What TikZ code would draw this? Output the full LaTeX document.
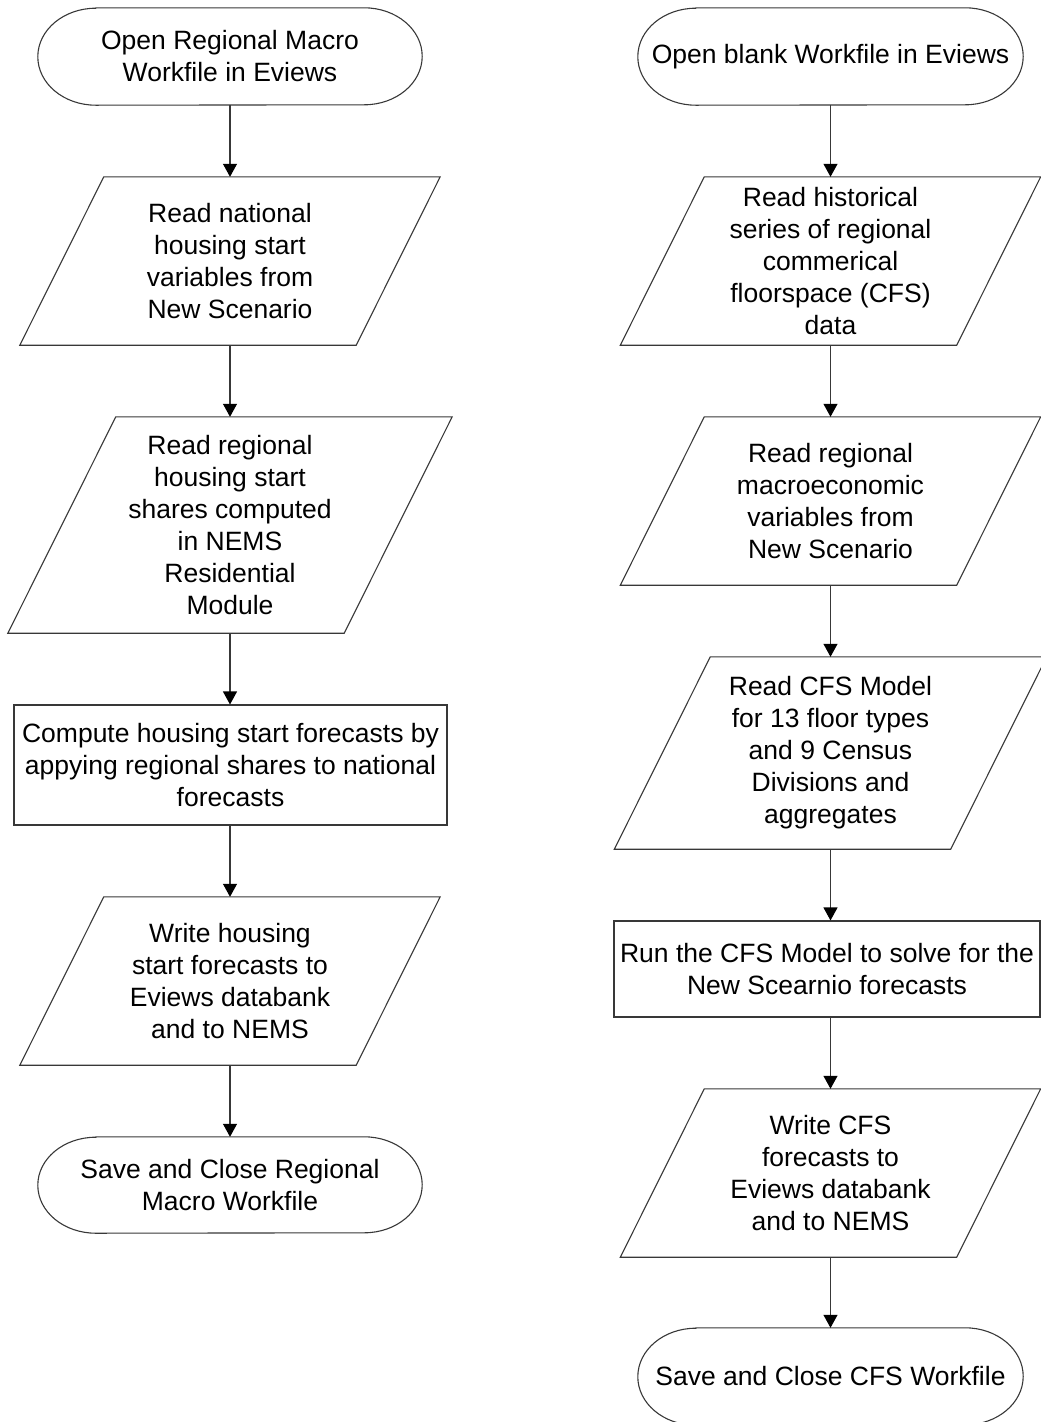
\documentclass[tikz,border=0pt]{standalone}
\usepackage{fontspec}
\setmainfont{Liberation Sans}
\usetikzlibrary{arrows.meta}
\newcommand{\pgram}[2]{\draw[shapeline] ([xshift=#2pt]#1.north west) -- ([xshift=#2pt]#1.north east) -- ([xshift=-#2pt]#1.south east) -- ([xshift=-#2pt]#1.south west) -- cycle;}
\newcommand{\termshape}[3]{\draw[shapeline] ([xshift=#2pt]#1.north west) -- ([xshift=-#2pt]#1.north east) arc[start angle=90,end angle=-90,x radius=#2pt,y radius=#3pt] -- ([xshift=#2pt]#1.south west) arc[start angle=270,end angle=90,x radius=#2pt,y radius=#3pt] -- cycle;}
\begin{document}
\begin{tikzpicture}[x=1pt,y=-1pt,
  shapeline/.style={draw=black!78,line width=1.1pt},
  txt/.style={inner sep=0pt,align=center,font=\fontsize{26.5}{32}\selectfont},
  boxnode/.style={txt,draw=black!78,line width=1.1pt,rectangle},
  flow/.style={draw=black!78,line width=1.1pt,-{Triangle[width=14pt,length=13pt,color=black]}}]
\useasboundingbox (0,0) rectangle (1041,1422);
% ---------- left column ----------
\node[txt,minimum width=384pt,minimum height=97pt] (l1) at (230,56.5) {Open Regional Macro\\Workfile in Eviews};
\node[txt,minimum width=336pt,minimum height=168pt] (l2) at (230,261) {Read national\\housing start\\variables from\\New Scenario};
\node[txt,minimum width=336pt,minimum height=216pt] (l3) at (230,525) {Read regional\\housing start\\shares computed\\in NEMS\\Residential\\Module};
\node[boxnode,minimum width=433pt,minimum height=120pt] (l4) at (230.5,765) {Compute housing start forecasts by\\appying regional shares to national\\forecasts};
\node[txt,minimum width=336pt,minimum height=168pt] (l5) at (230,981) {Write housing\\start forecasts to\\Eviews databank\\and to NEMS};
\node[txt,minimum width=384pt,minimum height=96pt] (l6) at (230,1185) {Save and Close Regional\\Macro Workfile};
\termshape{l1}{58}{48.5}
\pgram{l2}{42}
\pgram{l3}{54}
\pgram{l5}{42}
\termshape{l6}{58}{48}
\draw[flow] (l1.south) -- (l2.north);
\draw[flow] (l2.south) -- (l3.north);
\draw[flow] (l3.south) -- (l3.south |- l4.north);
\draw[flow] (l3.south |- l4.south) -- (l5.north);
\draw[flow] (l5.south) -- (l6.north);
% ---------- right column ----------
\node[txt,minimum width=385pt,minimum height=97pt] (r1) at (830.5,56.5) {Open blank Workfile in Eviews};
\node[txt,minimum width=336pt,minimum height=168pt] (r2) at (830.5,261) {Read historical\\series of regional\\commerical\\floorspace (CFS)\\data};
\node[txt,minimum width=336pt,minimum height=168pt] (r3) at (830.5,501) {Read regional\\macroeconomic\\variables from\\New Scenario};
\node[txt,minimum width=336pt,minimum height=192pt] (r4) at (830.5,753) {Read CFS Model\\for 13 floor types\\and 9 Census\\Divisions and\\aggregates};
\node[boxnode,minimum width=426pt,minimum height=96pt] (r5) at (827,969) {Run the CFS Model to solve for the\\New Scearnio forecasts};
\node[txt,minimum width=336pt,minimum height=168pt] (r6) at (830.5,1173) {Write CFS\\forecasts to\\Eviews databank\\and to NEMS};
\node[txt,minimum width=385pt,minimum height=97pt] (r7) at (830.5,1376.5) {Save and Close CFS Workfile};
\termshape{r1}{58}{48.5}
\pgram{r2}{42}
\pgram{r3}{42}
\pgram{r4}{48}
\pgram{r6}{42}
\termshape{r7}{58}{48.5}
\draw[flow] (r1.south) -- (r2.north);
\draw[flow] (r2.south) -- (r3.north);
\draw[flow] (r3.south) -- (r4.north);
\draw[flow] (r4.south) -- (r4.south |- r5.north);
\draw[flow] (r4.south |- r5.south) -- (r6.north);
\draw[flow] (r6.south) -- (r7.north);
\end{tikzpicture}
\end{document}
